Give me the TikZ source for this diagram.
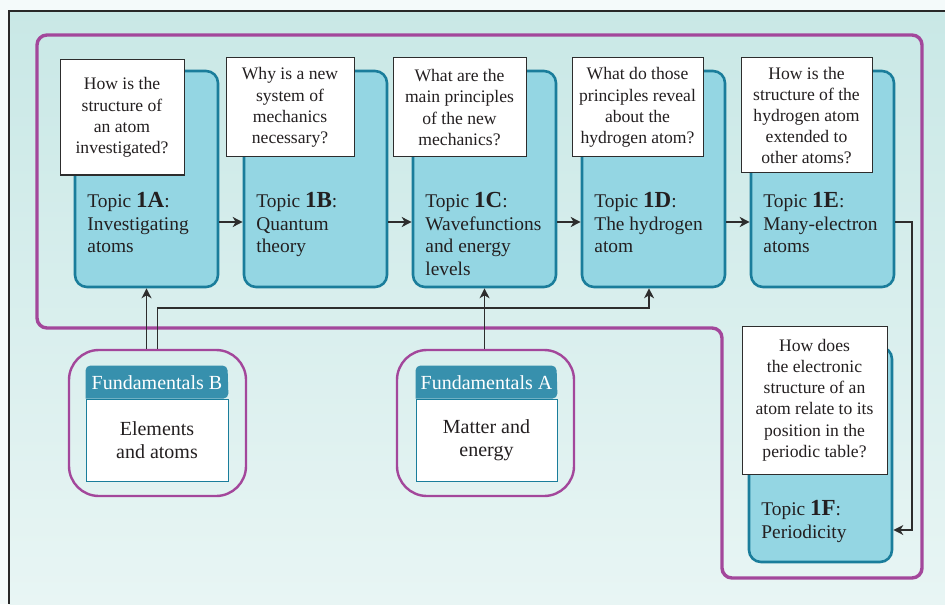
\documentclass[tikz,border=0pt]{standalone}
\usepackage{fontspec}
\setmainfont{Liberation Serif}
\usetikzlibrary{arrows.meta,calc}

\definecolor{margin}{RGB}{244,250,250}
\definecolor{bgtop}{RGB}{201,232,230}
\definecolor{bgbot}{RGB}{232,245,244}
\definecolor{frameline}{RGB}{40,40,40}
\definecolor{purp}{RGB}{163,71,155}
\definecolor{topicfill}{RGB}{148,214,227}
\definecolor{topicline}{RGB}{26,125,155}
\definecolor{headfill}{RGB}{55,144,173}
\definecolor{ink}{RGB}{35,31,32}
\definecolor{connline}{RGB}{45,45,45}

\newcommand{\tpc}[1]{Topic \textbf{\fontsize{11.5}{12}\selectfont #1}:}

\tikzset{
  topicbox/.style={draw=topicline, line width=1.3pt, fill=topicfill, rounded corners=6pt,
    minimum width=71.5pt, minimum height=108pt, inner sep=0pt},
  qbox/.style={draw=connline, line width=0.5pt, fill=white, inner sep=0pt, align=center,
    text=ink, font=\fontsize{8.8}{10.6}\selectfont},
  ttext/.style={anchor=north west, align=left, inner sep=0pt, text=ink,
    font=\fontsize{9.7}{11.3}\selectfont},
  fouter/.style={draw=purp, line width=1.2pt, rounded corners=15pt,
    minimum width=88.5pt, minimum height=73pt, inner sep=0pt},
  fbody/.style={draw=topicline, line width=0.5pt, fill=white, align=center, text=ink,
    minimum height=41pt, inner sep=0pt, font=\fontsize{10}{11.5}\selectfont},
  fhead/.style={text=white, inner sep=0pt, font=\fontsize{10}{12}\selectfont},
  conn/.style={draw=connline, line width=0.6pt},
  arr/.style={conn, -{Stealth[length=5pt,width=5pt,inset=1.5pt]}},
}

\begin{document}
\begin{tikzpicture}[x=0.5pt,y=-0.5pt]
    \useasboundingbox (0,0) rectangle (945,604);
    \clip (0,0) rectangle (945,604);
    % page and frame
    \fill[margin] (0,0) rectangle (945,604);
    \shade[top color=bgtop, bottom color=bgbot] (9,11) rectangle (945,604);
    \draw[frameline, line width=0.6pt] (9,604) -- (9,11) -- (945,11);
    % purple line round the topics
    \draw[purp, line width=1.7pt, rounded corners=5pt]
        (37,35) -- (922,35) -- (922,578) -- (722,578) -- (722,328) -- (37,328) -- cycle;

    % topic boxes
    \foreach \n/\x in {1A/146.5, 1B/315.5, 1C/484.5, 1D/653.5, 1E/822.5}
        \node[topicbox] (t\n) at (\x,179) {};
    \node[topicbox, minimum height=107.5pt] (t1F) at (820.5,454.5) {};

    % questions
    \node[qbox, minimum width=62pt, minimum height=57.5pt] (q1A) at (122,117.5)
        {How is the\\structure of\\an atom\\investigated?};
    \node[qbox, minimum width=64pt, minimum height=49.5pt] (q1B) at (290,107.5)
        {Why is a new\\system of\\mechanics\\necessary?};
    \node[qbox, minimum width=66.5pt, minimum height=49.5pt] (q1C) at (459.5,107.5)
        {What are the\\main principles\\of the new\\mechanics?};
    \node[qbox, minimum width=65.5pt, minimum height=49.5pt] (q1D) at (637.5,107.5)
        {What do those\\principles reveal\\about the\\hydrogen atom?};
    \node[qbox, minimum width=65.5pt, minimum height=57.5pt] (q1E) at (806.5,115.5)
        {How is the\\structure of the\\hydrogen atom\\extended to\\other atoms?};
    \node[qbox, minimum width=72.5pt, minimum height=74pt] (q1F) at (814.5,400)
        {How does\\the electronic\\structure of an\\atom relate to its\\position in the\\periodic table?};

    % topic names
    \node[ttext] (l1A) at (87,192) {\tpc{1A}\\Investigating\\atoms};
    \node[ttext] (l1B) at (256,192) {\tpc{1B}\\Quantum\\theory};
    \node[ttext] (l1C) at (425,192) {\tpc{1C}\\Wavefunctions\\and energy\\levels};
    \node[ttext] (l1D) at (594,192) {\tpc{1D}\\The hydrogen\\atom};
    \node[ttext] (l1E) at (763,192) {\tpc{1E}\\Many-electron\\atoms};
    \node[ttext] (l1F) at (761,500) {\tpc{1F}\\Periodicity};

    % arrows along the row
    \coordinate (row) at (0,222);
    \foreach \a/\b in {1A/1B, 1B/1C, 1C/1D, 1D/1E}
        \draw[arr] (t\a.east |- row) -- (t\b.west |- row);
    \coordinate (bend) at (912,530);
    \draw[arr] (t1E.east |- row) -| (bend) -- (bend -| t1F.east);

    % fundamentals
    \node[fouter] (oB) at (157.5,423) {};
    \node[fbody, minimum width=71pt] (bB) at (157,440) {Elements\\and atoms};
    \fill[headfill] (bB.north west) [rounded corners=2.5pt] -- ++(0,-33) -- ++(142,0)
        -- (bB.north east) [sharp corners] -- cycle;
    \node[fhead] (hB) at (157,382.5) {Fundamentals B};

    \node[fouter] (oA) at (485.5,423) {};
    \node[fbody, minimum width=70.5pt] (bA) at (486.5,440) {Matter and\\energy};
    \fill[headfill] (bA.north west) [rounded corners=2.5pt] -- ++(0,-33) -- ++(141,0)
        -- (bA.north east) [sharp corners] -- cycle;
    \node[fhead] (hA) at (486.5,382.5) {Fundamentals A};

    % links up from the fundamentals
    \coordinate (jog) at (0,308);
    \draw[arr] (oB.north -| t1A.south) -- (t1A.south);
    \draw[arr] (oB.north) -- (oB.north |- jog) -| ([xshift=-2.25pt]t1D.south);
    \draw[arr] (oA.north -| t1C.south) -- (t1C.south);
\end{tikzpicture}
\end{document}
